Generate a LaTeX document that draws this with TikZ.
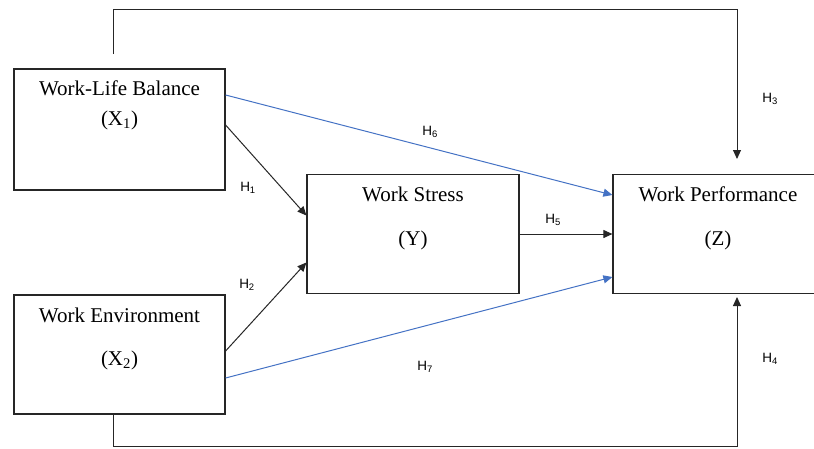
\documentclass[tikz,border=0pt]{standalone}
\usepackage{fontspec}
\setmainfont{Liberation Serif}
\newfontfamily\hfont{Liberation Sans}
\usetikzlibrary{arrows.meta}
\definecolor{hblue}{RGB}{68,114,196}
\tikzset{
  boxnode/.style={draw=black!85, line width=1.2pt, rectangle, inner sep=0pt},
  boxtext/.style={font=\fontsize{21}{24}\selectfont, anchor=base, inner sep=0pt},
  hlab/.style={font=\hfont\fontsize{13.5}{15}\selectfont, inner sep=0pt},
  conn/.style={draw=black!85, line width=1pt, -{Triangle[length=9pt,width=8pt]}},
  bconn/.style={draw=hblue, line width=1pt, -{Triangle[length=9pt,width=8pt]}},
  plain/.style={draw=black!85, line width=1pt}
}
\begin{document}
\begin{tikzpicture}[x=1pt,y=-1pt]
\useasboundingbox (0,0) rectangle (814,448);
\clip (0,0) rectangle (814,448);
% boxes
\node[boxnode, minimum width=211pt, minimum height=121pt] (wlb) at (119.5,129.5) {};
\node[boxnode, minimum width=211pt, minimum height=119pt] (we) at (119.5,354.5) {};
\node[boxnode, minimum width=212pt, minimum height=119pt] (ws) at (413,234) {};
\node[boxnode, minimum width=210pt, minimum height=119pt] (wp) at (718,234) {};
% box texts
\node[boxtext] (wlbt1) at (119.5,95) {Work-Life Balance};
\node[boxtext] (wlbt2) at (119.5,125) {(X\textsubscript{1})};
\node[boxtext] (wet1) at (119.5,322) {Work Environment};
\node[boxtext] (wet2) at (119.5,365) {(X\textsubscript{2})};
\node[boxtext] (wst1) at (413,201) {Work Stress};
\node[boxtext] (wst2) at (413,245) {(Y)};
\node[boxtext] (wpt1) at (718,201) {Work Performance};
\node[boxtext] (wpt2) at (718,245) {(Z)};
% free-end coordinates
\coordinate (topstart) at (113,54);
\coordinate (toptip) at (737,159);
\coordinate (botend) at (737,297);
% connectors
\draw[conn] ([yshift=4.5pt]wlb.east) -- ([yshift=18.5pt]ws.west);
\draw[conn] ([yshift=3.5pt]we.east) -- ([yshift=-28.5pt]ws.west);
\draw[conn] (ws.east) -- (ws.east -| wp.west);
\draw[bconn] ([yshift=34.5pt]wlb.east) -- ([yshift=39pt]wp.west);
\draw[bconn] ([yshift=-23.5pt]we.east) -- ([yshift=-43pt]wp.west);
\draw[conn] (topstart) -- (113,9) -- (737,9) -- (toptip);
\draw[conn] (we.south -| topstart) -- (113,446) -- (737,446) -- (botend);
% labels
\node[hlab] (h1) at (248,188) {H\textsubscript{1}};
\node[hlab] (h2) at (247,285) {H\textsubscript{2}};
\node[hlab] (h3) at (770,99) {H\textsubscript{3}};
\node[hlab] (h4) at (770,359) {H\textsubscript{4}};
\node[hlab] (h5) at (553,220) {H\textsubscript{5}};
\node[hlab] (h6) at (430,132) {H\textsubscript{6}};
\node[hlab] (h7) at (425,367) {H\textsubscript{7}};
\end{tikzpicture}
\end{document}
